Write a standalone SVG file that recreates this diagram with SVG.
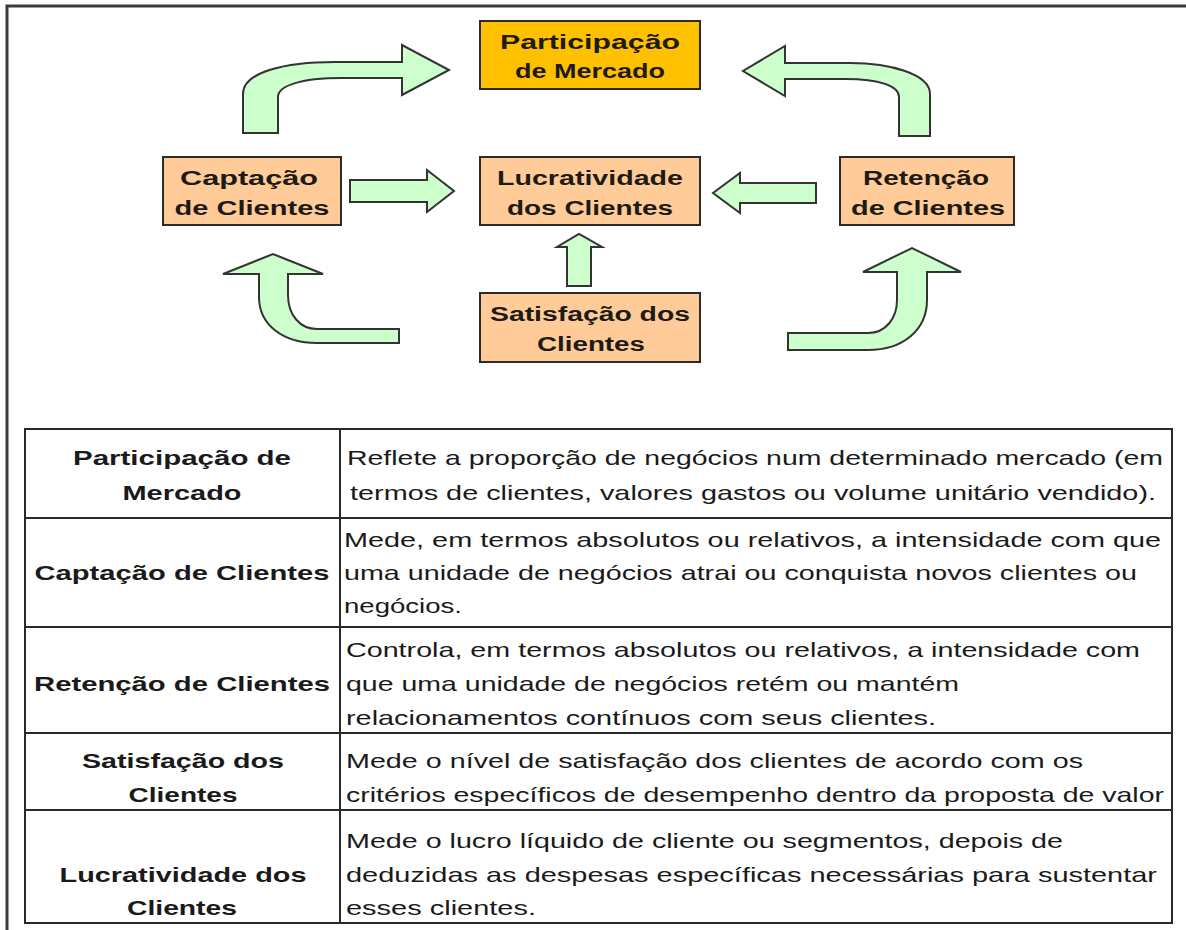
<svg xmlns="http://www.w3.org/2000/svg" width="1186" height="930" viewBox="0 0 1186 930">
<style>
.bg{fill:#ffffff}
.frame{stroke:#3a3a3a;stroke-width:3;fill:none}
.box{stroke:#2b2b2b;stroke-width:2}
.peach{fill:#FFCC99}
.gold{fill:#FFC000}
.arrow{fill:#CCFFCC;stroke:#333333;stroke-width:2;stroke-linejoin:miter}
.nt{font-family:"Liberation Sans",Arial,sans-serif;font-weight:bold;font-size:20px;fill:#1e1a16;text-anchor:middle}
.grid{stroke:#2a2a2a;stroke-width:2;fill:none}
.tl{font-family:"Liberation Sans",Arial,sans-serif;font-weight:bold;font-size:21px;fill:#1a1a1a;text-anchor:middle}
.tr{font-family:"Liberation Sans",Arial,sans-serif;font-size:21px;fill:#1a1a1a}
</style>
<rect class="bg" x="0" y="0" width="1186" height="930"/>
<path class="frame" d="M7,930 L7,6 L1186,6"/>

<g id="connectors">
  <path class="arrow" d="M243,133 L243,94 C243,72 285,62 335,62 L402,62 L402,45 L449,70 L402,95 L402,78 L342,78 C300,78 278,86 278,97 L278,133 Z"/>
  <path class="arrow" d="M930,136 L930,94 C930,74 890,63 850,63 L785,63 L785,46 L743,71 L785,96 L785,79 L845,79 C880,79 899,86 899,97 L899,136 Z"/>
  <path class="arrow" d="M350,180 L427,180 L427,170 L454,191 L427,212 L427,202 L350,202 Z"/>
  <path class="arrow" d="M816,183 L740,183 L740,173 L713,193 L740,213 L740,203 L816,203 Z"/>
  <path class="arrow" d="M567,286 L567,247 L557,247 L579,234 L602,247 L591,247 L591,286 Z"/>
  <path class="arrow" d="M399,343 L317,343 C283,343 259,325 259,297 L259,274 L223,274 L273,254 L323,274 L288,274 L288,295 C288,315 300,329 317,329 L399,329 Z"/>
  <path class="arrow" d="M788,333 L868,333 C886,333 897,318 897,300 L897,272 L863,272 L912,248 L961,272 L927,272 L927,300 C927,330 903,350 868,350 L788,350 Z"/>
</g>

<g id="node-participacao">
  <rect class="box gold" x="480" y="21" width="220" height="68"/>
  <text class="nt" x="590" y="49" textLength="180" lengthAdjust="spacingAndGlyphs">Participação</text>
  <text class="nt" x="590" y="78" textLength="150" lengthAdjust="spacingAndGlyphs">de Mercado</text>
</g>
<g id="node-captacao">
  <rect class="box peach" x="163" y="157" width="178" height="68"/>
  <text class="nt" x="249" y="185" textLength="138" lengthAdjust="spacingAndGlyphs">Captação</text>
  <text class="nt" x="252" y="215" textLength="155" lengthAdjust="spacingAndGlyphs">de Clientes</text>
</g>
<g id="node-lucratividade">
  <rect class="box peach" x="480" y="157" width="220" height="68"/>
  <text class="nt" x="590" y="185" textLength="186" lengthAdjust="spacingAndGlyphs">Lucratividade</text>
  <text class="nt" x="590" y="215" textLength="166" lengthAdjust="spacingAndGlyphs">dos Clientes</text>
</g>
<g id="node-retencao">
  <rect class="box peach" x="840" y="157" width="174" height="68"/>
  <text class="nt" x="926" y="185" textLength="126" lengthAdjust="spacingAndGlyphs">Retenção</text>
  <text class="nt" x="928" y="215" textLength="154" lengthAdjust="spacingAndGlyphs">de Clientes</text>
</g>
<g id="node-satisfacao">
  <rect class="box peach" x="480" y="293" width="220" height="69"/>
  <text class="nt" x="590" y="321" textLength="200" lengthAdjust="spacingAndGlyphs">Satisfação dos</text>
  <text class="nt" x="591" y="351" textLength="108" lengthAdjust="spacingAndGlyphs">Clientes</text>
</g>

<g id="table">
  <rect class="grid" x="25" y="429" width="1147" height="494"/>
  <line class="grid" x1="340" y1="429" x2="340" y2="923"/>
  <line class="grid" x1="25" y1="518" x2="1172" y2="518"/>
  <line class="grid" x1="25" y1="627" x2="1172" y2="627"/>
  <line class="grid" x1="25" y1="733" x2="1172" y2="733"/>
  <line class="grid" x1="25" y1="810" x2="1172" y2="810"/>

  <text class="tl" x="182" y="465" textLength="218" lengthAdjust="spacingAndGlyphs">Participação de</text>
  <text class="tl" x="182" y="500" textLength="119" lengthAdjust="spacingAndGlyphs">Mercado</text>
  <text class="tl" x="182" y="580" textLength="295" lengthAdjust="spacingAndGlyphs">Captação de Clientes</text>
  <text class="tl" x="182" y="691" textLength="296" lengthAdjust="spacingAndGlyphs">Retenção de Clientes</text>
  <text class="tl" x="183" y="768" textLength="202" lengthAdjust="spacingAndGlyphs">Satisfação dos</text>
  <text class="tl" x="183" y="802" textLength="109" lengthAdjust="spacingAndGlyphs">Clientes</text>
  <text class="tl" x="183" y="882" textLength="247" lengthAdjust="spacingAndGlyphs">Lucratividade dos</text>
  <text class="tl" x="182" y="915" textLength="110" lengthAdjust="spacingAndGlyphs">Clientes</text>

  <text class="tr" x="347" y="465" textLength="816" lengthAdjust="spacingAndGlyphs">Reflete a proporção de negócios num determinado mercado (em</text>
  <text class="tr" x="350" y="500" textLength="806" lengthAdjust="spacingAndGlyphs">termos de clientes, valores gastos ou volume unitário vendido).</text>
  <text class="tr" x="344" y="547" textLength="817" lengthAdjust="spacingAndGlyphs">Mede, em termos absolutos ou relativos, a intensidade com que</text>
  <text class="tr" x="344" y="580" textLength="793" lengthAdjust="spacingAndGlyphs">uma unidade de negócios atrai ou conquista novos clientes ou</text>
  <text class="tr" x="344" y="613" textLength="118" lengthAdjust="spacingAndGlyphs">negócios.</text>
  <text class="tr" x="346" y="657" textLength="794" lengthAdjust="spacingAndGlyphs">Controla, em termos absolutos ou relativos, a intensidade com</text>
  <text class="tr" x="346" y="691" textLength="613" lengthAdjust="spacingAndGlyphs">que uma unidade de negócios retém ou mantém</text>
  <text class="tr" x="346" y="725" textLength="590" lengthAdjust="spacingAndGlyphs">relacionamentos contínuos com seus clientes.</text>
  <text class="tr" x="346" y="768" textLength="737" lengthAdjust="spacingAndGlyphs">Mede o nível de satisfação dos clientes de acordo com os</text>
  <text class="tr" x="346" y="802" textLength="818" lengthAdjust="spacingAndGlyphs">critérios específicos de desempenho dentro da proposta de valor</text>
  <text class="tr" x="346" y="848" textLength="717" lengthAdjust="spacingAndGlyphs">Mede o lucro líquido de cliente ou segmentos, depois de</text>
  <text class="tr" x="346" y="882" textLength="811" lengthAdjust="spacingAndGlyphs">deduzidas as despesas específicas necessárias para sustentar</text>
  <text class="tr" x="346" y="915" textLength="190" lengthAdjust="spacingAndGlyphs">esses clientes.</text>
</g>
</svg>
